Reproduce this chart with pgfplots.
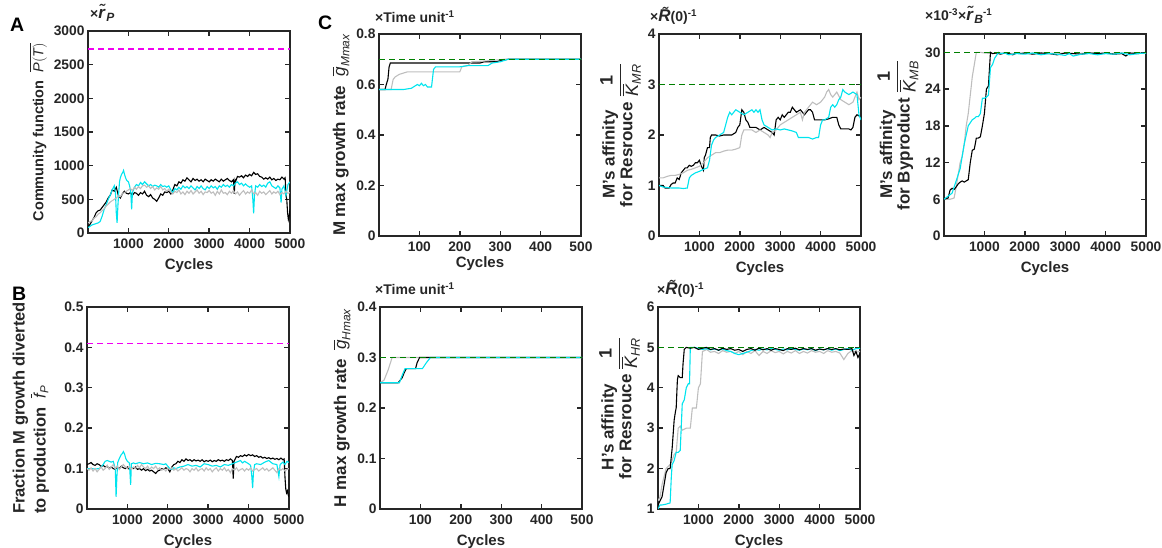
\documentclass[border=0pt]{standalone}
\usepackage{pgfplots}
\pgfplotsset{compat=1.18}
\usepackage{amsmath}
\usepackage{fontspec}
\setmainfont{Liberation Sans}
\definecolor{cync}{RGB}{0,228,238}
\definecolor{gryc}{RGB}{190,190,190}
\definecolor{magc}{RGB}{240,0,240}
\definecolor{grnc}{RGB}{0,128,0}
\definecolor{txtc}{RGB}{38,38,38}
\newcommand\iv[1]{\text{\normalfont\itshape #1}}
\newcommand\fr[1]{{\fontsize{18}{20}\selectfont$\dfrac{\text{\bfseries 1}}{\overline{\iv{K}}_{\iv{#1}}}$}}
\newcommand\rt[1]{{\fontsize{17}{17}\selectfont\itshape\~#1}}
\newcommand\sub[1]{\kern1.5pt\raisebox{-3pt}{\fontsize{12}{12}\selectfont\itshape #1}}
\pgfplotsset{
 panel/.style={width=202pt,height=202pt,scale only axis,anchor=south west,
   axis line style={draw=txtc,line width=1.6pt},
   tick align=inside, major tick length=5pt,
   every tick/.style={draw=txtc,line width=1.4pt},
   tick label style={font=\fontsize{13.8}{15}\selectfont\bfseries,text=txtc},
   xticklabel style={yshift=-2pt},
   /pgf/number format/assume math mode=true,
   /pgf/number format/1000 sep={},
   label style={font=\fontsize{17}{17.5}\selectfont\bfseries,text=txtc},
   xlabel style={font=\fontsize{15}{16}\selectfont\bfseries,yshift=-3pt},
   xlabel={Cycles},
   xmin=0,xmax=5000,xtick={1000,2000,3000,4000,5000},
   scaled ticks=false,
   every axis plot/.append style={line width=1.1pt,mark=none},
 },
}
\begin{document}
\begin{tikzpicture}
\path[use as bounding box] (0,0) rectangle (1162pt,548pt);
\tikzset{ann/.style={anchor=base west,font=\fontsize{14}{15}\selectfont\bfseries,text=txtc,inner sep=0pt},
 let/.style={anchor=base west,font=\fontsize{19.5}{20}\selectfont\bfseries,text=black,inner sep=0pt}}
\node[let] at (10pt,516pt) {A};
\node[let] at (12pt,247pt) {B};
\node[let] at (318pt,518pt) {C};
\node[ann] at (90pt,529pt) {×\rt{r}\sub{P}};
\node[ann] at (375pt,525pt) {×Time unit\textsuperscript{-1}};
\node[ann] at (375pt,253pt) {×Time unit\textsuperscript{-1}};
\node[ann] at (650pt,526pt) {×\rt{R}(0)\textsuperscript{-1}};
\node[ann] at (657pt,253pt) {×\rt{R}(0)\textsuperscript{-1}};
\node[ann] at (925pt,527pt) {×10\textsuperscript{-3}×\rt{r}\sub{B}\textsuperscript{-1}};

% ---------------- A
\begin{axis}[panel,at={(88pt,315pt)},ymin=0,ymax=3000,ytick={0,500,...,3000},
 ylabel style={font=\fontsize{14.5}{16}\selectfont\bfseries},
 ylabel={Community function~~$\overline{\iv{P}(\iv{T})}$}]
\addplot[color=black] coordinates {(0,90) (50,130) (100,180) (150,230) (200,300) (250,330) (300,340) (350,380) (400,420) (450,460) (500,520) (550,560) (600,640) (650,620) (700,680) (750,560) (800,520) (850,580) (900,620) (950,590) (1000,580) (1050,600) (1100,560) (1150,600) (1200,590) (1250,560) (1300,600) (1350,580) (1400,620) (1450,560) (1500,540) (1550,570) (1600,520) (1650,500) (1700,470) (1750,520) (1800,580) (1850,560) (1900,610) (1950,600) (2000,620) (2050,580) (2100,640) (2150,720) (2200,700) (2250,760) (2300,740) (2350,790) (2400,770) (2450,820) (2500,790) (2550,760) (2600,810) (2650,780) (2700,800) (2750,770) (2800,790) (2850,760) (2900,800) (2950,780) (3000,760) (3050,790) (3100,770) (3150,800) (3200,780) (3250,760) (3300,800) (3350,770) (3400,790) (3450,810) (3500,780) (3550,760) (3600,790) (3620,580) (3640,780) (3650,760) (3700,840) (3750,830) (3800,850) (3850,820) (3900,860) (3950,840) (4000,870) (4050,850) (4100,900) (4150,870) (4200,880) (4250,840) (4300,830) (4350,800) (4400,820) (4450,800) (4500,830) (4550,790) (4600,810) (4650,780) (4700,800) (4750,790) (4800,830) (4850,800) (4880,820) (4900,560) (4920,500) (4940,300) (4960,200) (4980,250) (5000,350)};
\addplot[color=cync] coordinates {(0,80) (50,100) (100,120) (150,130) (200,140) (250,150) (300,170) (350,250) (400,350) (450,420) (500,500) (550,560) (600,640) (650,700) (680,600) (700,300) (720,150) (740,400) (760,600) (780,760) (800,820) (830,870) (860,900) (880,930) (900,880) (930,820) (960,780) (1000,760) (1030,700) (1060,600) (1080,350) (1100,600) (1150,680) (1200,720) (1250,700) (1300,750) (1350,720) (1400,760) (1450,730) (1500,700) (1550,720) (1600,690) (1650,710) (1700,700) (1750,680) (1800,720) (1850,690) (1900,700) (1950,680) (2000,700) (2050,640) (2100,600) (2150,660) (2200,640) (2250,680) (2300,650) (2350,700) (2400,670) (2450,690) (2500,660) (2550,700) (2600,670) (2650,640) (2700,690) (2750,660) (2800,700) (2850,660) (2900,640) (2950,690) (3000,660) (3050,700) (3100,670) (3150,690) (3200,650) (3250,700) (3300,680) (3350,720) (3400,690) (3450,710) (3500,680) (3550,720) (3600,700) (3650,740) (3700,760) (3750,720) (3800,740) (3850,700) (3900,730) (3950,700) (4000,680) (4050,700) (4080,500) (4100,290) (4120,550) (4150,700) (4200,680) (4250,720) (4300,690) (4350,710) (4400,680) (4450,740) (4500,760) (4550,700) (4600,680) (4650,660) (4700,700) (4750,670) (4780,450) (4800,650) (4850,700) (4900,560) (4950,720) (5000,760)};
\addplot[color=gryc] coordinates {(0,150) (50,170) (100,180) (150,220) (200,240) (250,280) (300,300) (350,330) (400,360) (450,400) (500,430) (550,460) (600,480) (650,500) (700,520) (750,550) (800,540) (850,580) (900,600) (950,620) (1000,640) (1050,660) (1100,630) (1150,680) (1200,650) (1250,690) (1300,660) (1350,700) (1400,710) (1450,680) (1500,700) (1550,660) (1600,690) (1650,640) (1700,670) (1750,650) (1800,690) (1850,640) (1900,660) (1950,620) (2000,650) (2050,610) (2100,580) (2150,620) (2200,600) (2250,640) (2300,580) (2350,610) (2400,570) (2450,620) (2500,590) (2550,630) (2600,580) (2650,610) (2700,640) (2750,590) (2800,620) (2850,570) (2900,610) (2950,600) (3000,630) (3050,590) (3100,610) (3150,560) (3200,620) (3250,580) (3300,640) (3350,590) (3400,600) (3450,570) (3500,620) (3550,590) (3600,630) (3650,580) (3700,610) (3750,560) (3800,600) (3850,630) (3900,580) (3950,610) (4000,590) (4050,640) (4100,580) (4150,600) (4200,560) (4250,620) (4300,590) (4350,610) (4400,570) (4450,600) (4500,630) (4550,580) (4600,610) (4650,590) (4700,620) (4750,570) (4800,600) (4850,580) (4900,620) (4950,590) (5000,600)};
\addplot[draw=magc,line width=1.4pt,dash pattern=on 6pt off 4pt] coordinates {(0,2730) (5000,2730)};
\end{axis}

% ---------------- B
\begin{axis}[panel,at={(87pt,39pt)},ymin=0,ymax=0.5,ytick={0,0.1,0.2,0.3,0.4,0.5},
 ylabel style={font=\fontsize{16.5}{19}\selectfont\bfseries},
 ylabel shift=6pt,
 ylabel={\begin{tabular}{@{}l@{}}Fraction M growth diverted\\to production~~$\overline{\iv{f}}_{\iv{P}}$\end{tabular}}]
\addplot[color=black] coordinates {(0,0.110) (50,0.112) (100,0.115) (150,0.110) (200,0.108) (250,0.112) (300,0.110) (350,0.105) (400,0.108) (450,0.104) (500,0.106) (550,0.100) (600,0.104) (650,0.100) (700,0.098) (750,0.104) (800,0.100) (850,0.106) (900,0.102) (950,0.100) (1000,0.104) (1050,0.098) (1100,0.102) (1150,0.100) (1200,0.104) (1250,0.098) (1300,0.100) (1350,0.096) (1400,0.100) (1450,0.095) (1500,0.098) (1550,0.094) (1600,0.096) (1650,0.092) (1700,0.088) (1750,0.094) (1800,0.096) (1850,0.100) (1900,0.098) (1950,0.102) (2000,0.100) (2050,0.092) (2100,0.104) (2150,0.110) (2200,0.112) (2250,0.118) (2300,0.115) (2350,0.122) (2400,0.118) (2450,0.124) (2500,0.120) (2550,0.122) (2600,0.118) (2650,0.122) (2700,0.119) (2750,0.121) (2800,0.118) (2850,0.122) (2900,0.117) (2950,0.120) (3000,0.118) (3050,0.121) (3100,0.117) (3150,0.120) (3200,0.118) (3250,0.122) (3300,0.119) (3350,0.121) (3400,0.118) (3450,0.122) (3500,0.120) (3550,0.124) (3600,0.120) (3620,0.075) (3640,0.118) (3700,0.130) (3750,0.128) (3800,0.132) (3850,0.130) (3900,0.134) (3950,0.131) (4000,0.135) (4050,0.132) (4100,0.134) (4150,0.130) (4200,0.132) (4250,0.128) (4300,0.130) (4350,0.126) (4400,0.128) (4450,0.125) (4500,0.127) (4550,0.124) (4600,0.126) (4650,0.123) (4700,0.125) (4750,0.122) (4800,0.126) (4850,0.122) (4880,0.124) (4900,0.080) (4920,0.050) (4940,0.040) (4960,0.045) (4980,0.035) (5000,0.030)};
\addplot[color=cync] coordinates {(0,0.100) (100,0.100) (200,0.099) (300,0.100) (350,0.104) (400,0.110) (450,0.118) (500,0.120) (550,0.118) (600,0.116) (650,0.118) (700,0.100) (720,0.030) (740,0.080) (760,0.115) (800,0.125) (850,0.135) (880,0.138) (900,0.142) (930,0.136) (960,0.125) (1000,0.118) (1050,0.114) (1080,0.060) (1100,0.112) (1150,0.114) (1200,0.112) (1300,0.115) (1400,0.112) (1500,0.114) (1600,0.110) (1700,0.113) (1800,0.112) (1900,0.110) (1950,0.112) (2000,0.106) (2050,0.100) (2100,0.098) (2150,0.102) (2200,0.100) (2300,0.104) (2400,0.106) (2500,0.110) (2600,0.106) (2700,0.108) (2800,0.104) (2900,0.112) (3000,0.110) (3100,0.106) (3200,0.108) (3300,0.104) (3400,0.110) (3500,0.108) (3600,0.112) (3700,0.116) (3800,0.120) (3850,0.114) (3900,0.118) (4000,0.112) (4050,0.108) (4080,0.080) (4100,0.052) (4120,0.090) (4150,0.110) (4200,0.112) (4300,0.110) (4400,0.116) (4500,0.120) (4600,0.112) (4700,0.110) (4750,0.080) (4780,0.110) (4850,0.116) (4900,0.110) (4950,0.118) (5000,0.115)};
\addplot[color=gryc] coordinates {(0,0.100) (50,0.096) (100,0.102) (150,0.094) (200,0.100) (250,0.092) (300,0.098) (350,0.104) (400,0.096) (450,0.100) (500,0.108) (550,0.098) (600,0.104) (650,0.110) (700,0.100) (750,0.106) (800,0.098) (850,0.104) (900,0.110) (950,0.104) (1000,0.100) (1050,0.106) (1100,0.098) (1150,0.104) (1200,0.100) (1250,0.108) (1300,0.102) (1350,0.110) (1400,0.104) (1450,0.100) (1500,0.106) (1550,0.098) (1600,0.104) (1650,0.100) (1700,0.106) (1750,0.098) (1800,0.102) (1850,0.096) (1900,0.100) (1950,0.094) (2000,0.100) (2050,0.098) (2100,0.102) (2150,0.096) (2200,0.100) (2250,0.094) (2300,0.098) (2350,0.102) (2400,0.096) (2450,0.100) (2500,0.098) (2550,0.092) (2600,0.100) (2650,0.096) (2700,0.102) (2750,0.094) (2800,0.098) (2850,0.100) (2900,0.094) (2950,0.102) (3000,0.096) (3050,0.100) (3100,0.092) (3150,0.098) (3200,0.102) (3250,0.094) (3300,0.100) (3350,0.096) (3400,0.102) (3450,0.094) (3500,0.098) (3550,0.090) (3600,0.100) (3650,0.096) (3700,0.102) (3750,0.094) (3800,0.098) (3850,0.100) (3900,0.094) (3950,0.100) (4000,0.096) (4050,0.102) (4100,0.094) (4150,0.098) (4200,0.100) (4250,0.094) (4300,0.098) (4350,0.102) (4400,0.096) (4450,0.100) (4500,0.094) (4550,0.098) (4600,0.102) (4650,0.096) (4700,0.090) (4750,0.100) (4800,0.096) (4850,0.100) (4900,0.094) (4950,0.098) (5000,0.100)};
\addplot[draw=magc,line width=1.6pt,dash pattern=on 6pt off 4pt] coordinates {(0,0.41) (5000,0.41)};
\end{axis}

% ---------------- C1
\begin{axis}[panel,at={(379pt,312pt)},xmin=0,xmax=500,xtick={100,200,300,400,500},
 ymin=0,ymax=0.8,ytick={0,0.2,0.4,0.6,0.8},
 xlabel style={yshift=5pt},
 ylabel={M max growth rate~~$\overline{\iv{g}}_{\iv{Mmax}}$}]
\addplot[color=black] coordinates {(0,0.58) (15,0.58) (18,0.60) (22,0.62) (25,0.67) (28,0.685) (250,0.685) (260,0.69) (290,0.69) (300,0.695) (320,0.70) (500,0.70)};
\addplot[color=gryc] coordinates {(0,0.58) (30,0.58) (35,0.62) (40,0.63) (50,0.64) (60,0.645) (70,0.65) (200,0.65) (205,0.67) (220,0.675) (230,0.69) (280,0.695) (310,0.70) (500,0.70)};
\addplot[color=cync] coordinates {(0,0.58) (60,0.58) (80,0.585) (95,0.60) (100,0.595) (105,0.605) (110,0.595) (115,0.60) (120,0.59) (130,0.59) (135,0.66) (140,0.67) (200,0.67) (220,0.675) (270,0.675) (280,0.685) (300,0.69) (320,0.70) (500,0.70)};
\addplot[draw=grnc,line width=1.4pt,dash pattern=on 6pt off 4pt] coordinates {(0,0.70) (500,0.70)};
\end{axis}

% ---------------- C2
\begin{axis}[panel,at={(380pt,39pt)},xmin=0,xmax=500,xtick={100,200,300,400,500},
 ymin=0,ymax=0.4,ytick={0,0.1,0.2,0.3,0.4},
 ylabel={H max growth rate~~$\overline{\iv{g}}_{\iv{Hmax}}$}]
\addplot[color=gryc] coordinates {(0,0.25) (10,0.255) (20,0.275) (30,0.30) (500,0.30)};
\addplot[color=black] coordinates {(0,0.25) (45,0.25) (55,0.26) (60,0.27) (65,0.278) (88,0.278) (92,0.29) (98,0.30) (500,0.30)};
\addplot[color=cync] coordinates {(0,0.25) (48,0.25) (55,0.265) (62,0.278) (105,0.278) (115,0.29) (125,0.30) (500,0.30)};
\addplot[draw=grnc,line width=1.4pt,dash pattern=on 6pt off 4pt] coordinates {(0,0.30) (500,0.30)};
\end{axis}

% ---------------- M resource
\begin{axis}[panel,at={(659pt,312pt)},ymin=0,ymax=4,ytick={0,1,...,4},
 ylabel={\begin{tabular}{@{}c@{}}M's affinity\\for Resrouce\end{tabular}~\fr{MR}}]
\addplot[color=black] coordinates {(0,1.0) (100,1.0) (150,0.95) (250,0.95) (300,1.02) (350,1.05) (400,1.05) (450,1.15) (500,1.12) (550,1.25) (600,1.3) (650,1.35) (700,1.35) (750,1.4) (800,1.38) (850,1.4) (900,1.45) (950,1.45) (1000,1.5) (1050,1.38) (1100,1.3) (1120,1.55) (1150,1.6) (1200,1.75) (1250,1.75) (1270,1.95) (1300,2.0) (1400,2.0) (1500,1.98) (1600,2.0) (1700,2.0) (1800,2.0) (1900,2.05) (1950,2.15) (2000,2.2) (2050,2.5) (2100,2.45) (2150,2.3) (2200,2.25) (2250,2.15) (2400,2.15) (2500,2.1) (2600,2.15) (2700,2.1) (2800,2.05) (2850,2.0) (2900,2.3) (2950,2.35) (3000,2.3) (3050,2.4) (3100,2.35) (3200,2.45) (3250,2.45) (3300,2.55) (3400,2.45) (3500,2.5) (3600,2.4) (3700,2.5) (3750,2.5) (3800,2.45) (3850,2.3) (3900,2.3) (4000,2.3) (4100,2.3) (4200,2.32) (4300,2.35) (4400,2.35) (4450,2.2) (4500,2.12) (4600,2.12) (4700,2.12) (4750,2.1) (4800,2.15) (4850,2.35) (4900,2.4) (4950,2.38) (5000,2.35)};
\addplot[color=gryc] coordinates {(0,1.15) (100,1.15) (200,1.18) (300,1.2) (400,1.2) (500,1.22) (600,1.25) (700,1.3) (800,1.32) (900,1.35) (1000,1.38) (1100,1.45) (1150,1.5) (1200,1.55) (1300,1.6) (1400,1.65) (1500,1.65) (1600,1.68) (1700,1.7) (1800,1.7) (1900,1.72) (2000,1.75) (2050,2.0) (2100,2.1) (2200,2.1) (2300,2.1) (2400,2.05) (2500,2.1) (2600,2.05) (2700,2.0) (2750,1.95) (2800,2.05) (2900,2.1) (3000,2.2) (3100,2.25) (3200,2.3) (3300,2.35) (3400,2.4) (3500,2.45) (3550,2.3) (3600,2.45) (3700,2.55) (3750,2.6) (3800,2.65) (3900,2.6) (4000,2.65) (4100,2.75) (4150,2.85) (4200,2.9) (4250,2.8) (4300,2.75) (4400,2.85) (4500,2.7) (4600,2.65) (4700,2.6) (4800,2.65) (4900,2.85) (4950,2.7) (5000,2.75)};
\addplot[color=cync] coordinates {(0,1.0) (100,0.97) (200,0.96) (300,0.95) (400,0.95) (500,0.95) (600,0.94) (700,0.95) (750,1.15) (800,1.2) (900,1.25) (1000,1.28) (1100,1.32) (1200,1.35) (1250,1.5) (1300,1.8) (1350,1.9) (1400,1.95) (1500,2.0) (1600,2.05) (1650,2.2) (1700,2.35) (1750,2.45) (1800,2.4) (1850,2.45) (1900,2.5) (2000,2.45) (2100,2.4) (2200,2.45) (2300,2.5) (2350,2.45) (2400,2.5) (2450,2.45) (2500,2.5) (2550,2.3) (2600,2.2) (2700,2.15) (2800,2.1) (2900,2.12) (3000,2.1) (3100,2.12) (3200,2.1) (3300,2.08) (3400,2.05) (3450,1.95) (3500,1.95) (3600,1.95) (3700,1.95) (3800,1.92) (3900,1.95) (3950,1.95) (4000,2.2) (4050,2.3) (4100,2.3) (4200,2.35) (4250,2.55) (4300,2.6) (4350,2.55) (4400,2.6) (4450,2.7) (4500,2.75) (4550,2.9) (4600,2.85) (4700,2.8) (4800,2.85) (4900,2.8) (4950,2.4) (5000,2.3)};
\addplot[draw=grnc,line width=1.4pt,dash pattern=on 6pt off 4pt] coordinates {(0,3) (5000,3)};
\end{axis}

% ---------------- H resource
\begin{axis}[panel,at={(658pt,39pt)},ymin=1,ymax=6,ytick={1,2,...,6},
 ylabel={\begin{tabular}{@{}c@{}}H's affinity\\for Resrouce\end{tabular}~\fr{HR}}]
\addplot[color=gryc] coordinates {(0,1.2) (50,1.3) (100,1.6) (150,1.8) (200,2.0) (250,2.05) (300,2.1) (350,2.2) (400,2.35) (450,2.4) (500,3.0) (550,3.05) (600,2.95) (700,3.0) (800,3.0) (850,3.5) (950,3.5) (1000,4.0) (1050,4.1) (1100,4.9) (1150,4.92) (1200,4.95) (1300,4.88) (1400,4.9) (1500,4.85) (1600,4.92) (1700,4.88) (1800,4.9) (1900,4.85) (2000,4.9) (2100,4.82) (2200,4.9) (2300,4.85) (2400,4.92) (2500,4.8) (2600,4.9) (2700,4.85) (2800,4.92) (2900,4.87) (3000,4.9) (3100,4.84) (3200,4.9) (3300,4.86) (3400,4.92) (3500,4.85) (3600,4.9) (3700,4.86) (3800,4.92) (3900,4.88) (4000,4.9) (4100,4.85) (4200,4.92) (4300,4.88) (4400,4.9) (4500,4.86) (4600,4.7) (4700,4.85) (4800,4.92) (4900,4.88) (5000,4.9)};
\addplot[color=cync] coordinates {(0,1.0) (50,1.1) (100,1.1) (200,1.12) (300,1.15) (330,1.8) (350,2.1) (400,2.2) (450,2.4) (500,2.4) (550,2.45) (600,3.6) (650,3.7) (700,4.0) (750,4.1) (780,4.1) (800,5.0) (900,5.0) (1000,4.98) (1100,4.95) (1200,4.97) (1300,4.94) (1400,4.96) (1500,4.93) (1600,4.96) (1700,4.92) (1800,4.9) (1900,4.85) (2000,4.82) (2100,4.85) (2200,4.88) (2300,4.92) (2400,4.95) (2500,4.93) (2600,4.96) (2700,4.94) (2800,4.97) (2900,4.95) (3000,4.93) (3100,4.96) (3200,4.94) (3300,4.97) (3400,4.95) (3500,4.93) (3600,4.96) (3700,4.94) (3800,4.97) (3900,4.92) (4000,4.96) (4100,4.94) (4200,4.97) (4300,4.93) (4400,4.96) (4500,4.92) (4600,4.95) (4700,4.97) (4800,4.93) (4900,4.97) (5000,4.98)};
\addplot[color=black] coordinates {(0,1.1) (50,1.2) (100,1.3) (150,1.6) (200,1.9) (250,2.0) (300,2.0) (350,2.5) (400,3.2) (430,3.4) (450,3.5) (480,4.2) (500,4.3) (550,4.25) (600,4.25) (620,4.6) (650,4.95) (700,5.0) (800,4.98) (900,5.0) (1000,4.95) (1100,4.98) (1200,5.0) (1300,4.95) (1400,4.97) (1500,4.93) (1600,4.98) (1700,4.95) (1800,4.97) (1900,4.93) (2000,4.95) (2100,4.9) (2200,4.95) (2300,4.97) (2400,4.93) (2500,4.98) (2600,4.94) (2700,4.97) (2800,4.93) (2900,4.97) (3000,4.95) (3100,4.92) (3200,4.97) (3300,4.95) (3400,4.98) (3500,4.94) (3600,4.97) (3700,4.95) (3800,4.97) (3900,4.93) (4000,4.96) (4100,4.94) (4200,4.97) (4300,4.95) (4400,4.97) (4500,4.94) (4600,4.96) (4700,4.95) (4800,4.97) (4850,4.8) (4900,4.9) (4950,4.75) (5000,4.85)};
\addplot[draw=grnc,line width=1.4pt,dash pattern=on 6pt off 4pt] coordinates {(0,5) (5000,5)};
\end{axis}

% ---------------- M byproduct
\begin{axis}[panel,at={(944pt,312pt)},ymin=0,ymax=33,ytick={0,6,...,30},
 ylabel={\begin{tabular}{@{}c@{}}M's affinity\\for Byproduct\end{tabular}~\fr{MB}}]
\addplot[color=gryc] coordinates {(0,6) (150,6) (250,6.2) (300,8) (350,10) (400,12) (450,13) (500,15) (550,18) (600,20) (650,23) (700,26) (750,28) (800,30) (900,30) (1000,29.9) (1200,29.8) (1400,29.9) (1600,29.8) (2000,29.9) (2400,29.8) (2800,29.9) (3200,29.8) (3600,29.9) (4000,29.8) (4400,29.9) (4800,29.8) (5000,29.9)};
\addplot[color=black] coordinates {(0,6) (100,6.2) (150,7.5) (200,7.8) (250,7.6) (300,8.0) (350,8.5) (400,8.8) (450,9.0) (500,8.8) (550,9.0) (600,9.2) (650,12) (700,14) (750,14.2) (800,16) (850,16) (900,16.2) (950,18) (1000,20) (1050,24) (1100,24.5) (1150,30) (1200,29.8) (1300,29.9) (1400,29.7) (1500,29.9) (1600,29.8) (1700,29.6) (1800,29.9) (1900,29.8) (2000,29.9) (2200,29.7) (2400,29.9) (2600,29.8) (2800,29.6) (3000,29.9) (3200,29.8) (3400,29.7) (3600,29.9) (3800,29.8) (4000,29.9) (4200,29.7) (4400,29.8) (4500,29.4) (4600,29.9) (4800,29.8) (5000,30)};
\addplot[color=cync] coordinates {(0,6) (100,6.5) (200,7) (250,8) (300,9) (350,10) (400,11) (450,13) (500,15) (550,16.5) (600,18) (650,18.5) (700,19) (750,19.2) (800,19.5) (850,19.5) (900,20) (950,22.5) (1000,22.5) (1050,22.7) (1100,23) (1150,27.5) (1200,28) (1250,29) (1300,29.5) (1350,30) (1400,29.8) (1500,29.9) (1600,29.6) (1800,29.8) (2000,29.7) (2200,29.9) (2400,29.6) (2600,29.8) (2800,29.7) (3000,29.5) (3100,29.8) (3200,29.4) (3400,29.7) (3600,29.8) (3800,29.6) (4000,29.8) (4200,29.7) (4400,29.9) (4600,29.6) (4800,29.8) (5000,29.9)};
\addplot[draw=grnc,line width=1.4pt,dash pattern=on 6pt off 4pt] coordinates {(0,30) (5000,30)};
\end{axis}
\end{tikzpicture}
\end{document}
